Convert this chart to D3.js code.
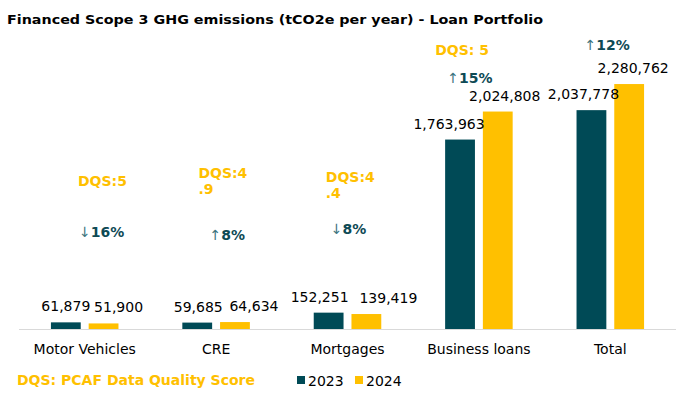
<!DOCTYPE html>
<html>
<head>
<meta charset="utf-8">
<script src="https://cdn.jsdelivr.net/npm/d3@7"></script>
<style>
  body { margin: 0; background: #fff; }
  text { font-family: "DejaVu Sans", Verdana, sans-serif; }
</style>
</head>
<body>
<svg id="chart"></svg>
<script>
const categories = ["Motor Vehicles", "CRE", "Mortgages", "Business loans", "Total"];
const years = ["2023", "2024"];
const values2023 = [61879, 59685, 152251, 1763963, 2037778];
const values2024 = [51900, 64634, 139419, 2024808, 2280762];
const dqsLabels = [["DQS:5"], ["DQS:4", ".9"], ["DQS:4", ".4"], ["DQS: 5"], []];
const changeLabels = [["↓", "16%"], ["↑", "8%"], ["↓", "8%"], ["↑", "15%"], ["↑", "12%"]];

// hand placed text boxes, offsets from the left of each category band
const labelNudge = [[0, 15], [1, 19], [-9, 22], [-11, 7], [-8, 4]];
const dqsPos = [[59, 186], [48, 178], [44, 182], [22, 55], [0, 0]];
const changePos = [[60, 237], [59, 240], [49, 234], [34, 83], [40, 50]];

const width = 688, height = 393;
const colors = { "2023": "#004A56", "2024": "#FFC000" };
const gold = "#FFC000", teal = "#0E4A55";

const svg = d3.select("#chart")
    .attr("width", width)
    .attr("height", height);

const x = d3.scaleBand()
    .domain(categories)
    .range([19, 676]);

const x1 = d3.scaleBand()
    .domain(years)
    .range([x.bandwidth() * 0.243, x.bandwidth() * 0.757])
    .paddingInner(0.21);

const y = d3.scaleLinear()
    .domain([0, 2500000])
    .range([329, 60.5]);

const rows = categories.map((c, i) => ({
    cat: c, i: i,
    vals: [{ year: "2023", v: values2023[i] }, { year: "2024", v: values2024[i] }]
}));

svg.append("text")
    .attr("x", 7)
    .attr("y", 24)
    .attr("font-size", 13)
    .attr("font-weight", "bold")
    .attr("textLength", 536)
    .attr("lengthAdjust", "spacingAndGlyphs")
    .text("Financed Scope 3 GHG emissions (tCO2e per year) - Loan Portfolio");

// axis line
svg.append("line")
    .attr("x1", x.range()[0])
    .attr("x2", x.range()[1])
    .attr("y1", y(0) + 0.5)
    .attr("y2", y(0) + 0.5)
    .attr("stroke", "#d9d9d9");

const group = svg.append("g").selectAll("g")
    .data(rows)
    .enter().append("g")
    .attr("transform", d => `translate(${x(d.cat)},0)`);

group.selectAll("rect")
    .data(d => d.vals)
    .enter().append("rect")
    .attr("x", d => x1(d.year))
    .attr("width", x1.bandwidth())
    .attr("y", d => y(d.v))
    .attr("height", d => y(0) - y(d.v))
    .attr("fill", d => colors[d.year]);

group.selectAll("text.value")
    .data(d => d.vals.map((v, j) => ({ ...v, dx: labelNudge[d.i][j] })))
    .enter().append("text")
    .attr("class", "value")
    .attr("x", d => x1(d.year) + x1.bandwidth() / 2 + d.dx)
    .attr("y", d => y(d.v) - 11)
    .attr("text-anchor", "middle")
    .attr("font-size", 14)
    .attr("fill", "#000")
    .text(d => d3.format(",")(d.v));

// category labels
svg.append("g").selectAll("text")
    .data(categories)
    .enter().append("text")
    .attr("x", d => x(d) + x.bandwidth() / 2)
    .attr("y", 354)
    .attr("text-anchor", "middle")
    .attr("font-size", 14)
    .attr("fill", "#000")
    .text(d => d);

// DQS annotations
group.each(function(d) {
    const g = d3.select(this);
    const lines = dqsLabels[d.i];
    if (lines.length) {
        const t = g.append("text")
            .attr("x", dqsPos[d.i][0])
            .attr("y", dqsPos[d.i][1])
            .attr("font-size", 14)
            .attr("font-weight", "bold")
            .attr("fill", gold);
        lines.forEach((l, k) => {
            t.append("tspan")
                .attr("x", dqsPos[d.i][0])
                .attr("dy", k ? 16 : 0)
                .text(l);
        });
    }
    const c = g.append("text")
        .attr("x", changePos[d.i][0])
        .attr("y", changePos[d.i][1])
        .attr("font-size", 14)
        .attr("fill", teal);
    c.append("tspan")
        .attr("font-weight", "normal")
        .attr("fill", "#3d7580")
        .text(changeLabels[d.i][0]);
    c.append("tspan")
        .attr("font-weight", "bold")
        .text(changeLabels[d.i][1]);
});

// footer note
svg.append("text")
    .attr("x", 17)
    .attr("y", 385)
    .attr("font-size", 14)
    .attr("font-weight", "bold")
    .attr("fill", gold)
    .text("DQS: PCAF Data Quality Score");

// legend
const legend = svg.append("g")
    .attr("transform", "translate(297,376)");

const item = legend.selectAll("g")
    .data(years)
    .enter().append("g")
    .attr("transform", (d, i) => `translate(${i * 58},0)`);

item.append("rect")
    .attr("width", 8)
    .attr("height", 8)
    .attr("fill", d => colors[d]);

item.append("text")
    .attr("x", 11)
    .attr("y", 10)
    .attr("font-size", 14)
    .attr("fill", "#000")
    .text(d => d);
</script>
</body>
</html>
